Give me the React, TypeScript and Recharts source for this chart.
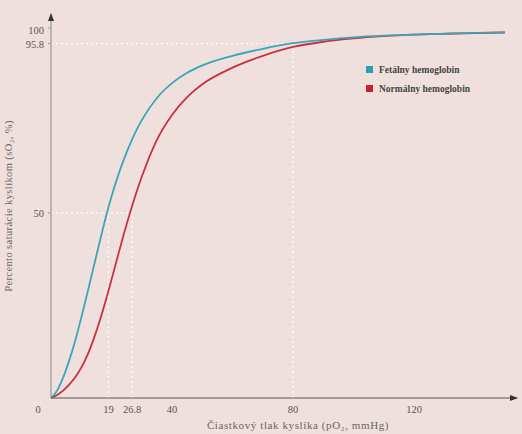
import React from 'react';
import {
  LineChart, Line, XAxis, YAxis, ReferenceLine, ReferenceDot, Label
} from 'recharts';

// partial pressure of oxygen, mmHg
const pressures = [0, 2, 4, 6, 8, 10, 12, 14, 16, 18, 19, 20, 22, 24, 26.8, 28, 30, 35, 40, 45, 50, 60, 70, 80, 90, 100, 110, 120, 130, 140, 150];
// saturation, %
const fetal = [0, 2, 5.5, 10.1, 15.5, 21.7, 28.3, 35.1, 41.9, 48.5, 51.6, 54.5, 59.7, 64.3, 69.9, 72, 75.1, 81.1, 85.1, 87.9, 89.9, 92.5, 94.4, 95.9, 96.8, 97.5, 97.95, 98.25, 98.5, 98.7, 98.85];
const normal = [0, 0.8, 2, 3.6, 5.6, 8.2, 11.5, 15.7, 20.6, 26.1, 29, 32, 38.1, 44.1, 51.9, 55, 59.8, 69.8, 76.5, 81.3, 84.8, 89.3, 92.5, 94.9, 96.3, 97.2, 97.8, 98.2, 98.45, 98.65, 98.8];

const xTicks = [0, 19, 26.8, 40, 80, 120];
const yTicks = [50, 95.8, 100];

const data = pressures.map((p, i) => ({ p, fetal: fetal[i], normal: normal[i] }));

const FONT = '"Liberation Serif", "DejaVu Serif", serif';
const TEAL = '#3aa6b8';
const RED = '#c9323d';

const XTick = (props: any) => {
  const { x, y, payload } = props;
  const dx = payload.value === 0 ? -13 : 0;
  return (
    <text x={x + dx} y={y + 7} textAnchor="middle" fontSize={10.5} fontFamily={FONT} fill="#555">
      {payload.value}
    </text>
  );
};

const YTick = (props: any) => {
  const { x, y, payload } = props;
  // 100 sits stacked right above 95.8 in the original
  const dy = payload.value === 100 ? 6 : 4;
  return (
    <text x={x - 2} y={y + dy} textAnchor="end" fontSize={10.5} fontFamily={FONT} fill="#555">
      {payload.value}
    </text>
  );
};

const ArrowRight = (props: any) => {
  const { cx, cy } = props;
  return <path d={`M${cx + 1},${cy} L${cx - 7},${cy - 3} L${cx - 7},${cy + 3} Z`} fill="#333" />;
};

const ArrowUp = (props: any) => {
  const { cx, cy } = props;
  return <path d={`M${cx},${cy - 1} L${cx - 3},${cy + 7} L${cx + 3},${cy + 7} Z`} fill="#333" />;
};

const dots = { stroke: '#ffffff', strokeDasharray: '2 3', strokeWidth: 1.4, strokeOpacity: 0.85 };

export default function App() {
  return (
    <div style={{ position: 'absolute', left: 0, top: 0, width: 522, height: 434, background: '#efe0de' }}>
      <LineChart width={522} height={434} data={data} margin={{ top: 14, right: 5, left: 0, bottom: 0 }}>
        <XAxis
          dataKey="p" type="number" domain={[0, 154]} ticks={xTicks} interval={0}
          height={36} tick={<XTick />} tickLine={false} axisLine={{ stroke: '#555' }}
        >
          <Label value="Čiastkový tlak kyslíka (pO₂, mmHg)" position="insideBottom" offset={5} dx={14}
            style={{ fontFamily: FONT, fontSize: 11, fill: '#666', letterSpacing: 0.6 }} />
        </XAxis>
        <YAxis
          type="number" domain={[0, 103.8]} ticks={yTicks} interval={0} width={51}
          tick={<YTick />} tickSize={3} tickLine={{ stroke: '#999' }} axisLine={{ stroke: '#888' }}
        >
          <Label value="Percento saturácie kyslíkom (sO₂, %)" angle={-90} position="insideLeft" offset={8}
            style={{ fontFamily: FONT, fontSize: 10.5, fill: '#666', textAnchor: 'middle', letterSpacing: 0.4 }} />
        </YAxis>
        <ReferenceLine segment={[{ x: 0, y: 95.8 }, { x: 80, y: 95.8 }]} {...dots} />
        <ReferenceLine segment={[{ x: 80, y: 0 }, { x: 80, y: 95.8 }]} {...dots} />
        <ReferenceLine segment={[{ x: 0, y: 50 }, { x: 26.8, y: 50 }]} {...dots} />
        <ReferenceLine segment={[{ x: 19, y: 0 }, { x: 19, y: 50 }]} {...dots} />
        <ReferenceLine segment={[{ x: 26.8, y: 0 }, { x: 26.8, y: 50 }]} {...dots} />
        <Line type="monotone" dataKey="normal" stroke={RED} strokeWidth={1.8} dot={false} isAnimationActive={false} />
        <Line type="monotone" dataKey="fetal" stroke={TEAL} strokeWidth={1.8} dot={false} isAnimationActive={false} />
        <ReferenceDot x={154} y={0} r={0} ifOverflow="visible" shape={<ArrowRight />} />
        <ReferenceDot x={0} y={103.8} r={0} ifOverflow="visible" shape={<ArrowUp />} />
      </LineChart>
      <div style={{ position: 'absolute', left: 366, top: 61, fontFamily: FONT, fontSize: 9.5, fontWeight: 'bold', color: '#444', lineHeight: '19px', whiteSpace: 'nowrap' }}>
        <div><span style={{ display: 'inline-block', width: 7, height: 7, background: '#2aa0b4', marginRight: 6 }} />Fetálny hemoglobin</div>
        <div><span style={{ display: 'inline-block', width: 7, height: 7, background: '#c8202c', marginRight: 6 }} />Normálny hemoglobin</div>
      </div>
    </div>
  );
}
